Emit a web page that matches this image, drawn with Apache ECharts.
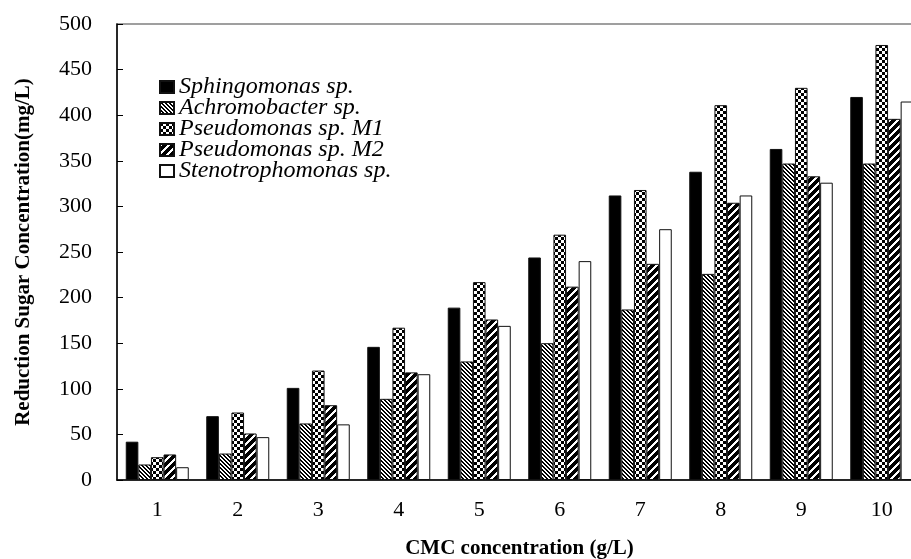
<!DOCTYPE html>
<html>
<head>
<meta charset="utf-8">
<script src="https://cdn.jsdelivr.net/npm/echarts@6/dist/echarts.min.js"></script>
<style>html,body{margin:0;padding:0;background:#fff;}#c{width:911px;height:559px;}</style>
</head>
<body>
<div id="c"></div>
<script>
const categories = ['1','2','3','4','5','6','7','8','9','10'];
const seriesNames = ['Sphingomonas sp.','Achromobacter sp.','Pseudomonas sp. M1','Pseudomonas sp. M2','Stenotrophomonas sp.'];
const sphingomonas = [42, 70, 101, 146, 189, 244, 312, 338, 363, 420];
const achromobacter = [17, 29, 62, 89, 130, 150, 187, 226, 347, 347];
const pseudomonasM1 = [25, 74, 120, 167, 217, 269, 318, 411, 430, 477];
const pseudomonasM2 = [28, 51, 82, 118, 176, 212, 237, 304, 333, 396];
const stenotrophomonas = [14, 47, 61, 116, 169, 240, 275, 312, 326, 415];
const yTicks = {min: 0, max: 500, interval: 50};

function tile(size, fn) {
  const c = document.createElement('canvas');
  c.width = size; c.height = size;
  const ctx = c.getContext('2d');
  const img = ctx.createImageData(size, size);
  for (let y = 0; y < size; y++) for (let x = 0; x < size; x++) {
    const v = fn(x, y) ? 0 : 255;
    const i = (y * size + x) * 4;
    img.data[i] = v; img.data[i+1] = v; img.data[i+2] = v; img.data[i+3] = 255;
  }
  ctx.putImageData(img, 0, 0);
  return {image: c, repeat: 'repeat'};
}
const fills = [
  '#000000',
  tile(4, (x, y) => (((x - y) % 4) + 4) % 4 < 2),
  tile(6, (x, y) => ((Math.floor(x / 3) + Math.floor(y / 3)) % 2) === 0),
  tile(8, (x, y) => ((x + y) % 8) > 2),
  '#ffffff'
];
const dataSets = [sphingomonas, achromobacter, pseudomonasM1, pseudomonasM2, stenotrophomonas];

const chart = echarts.init(document.getElementById('c'), null, {renderer: 'canvas'});
chart.setOption({
  animation: false,
  backgroundColor: '#fff',
  grid: {left: 117, top: 24, width: 805, height: 456, outerBoundsMode: 'none', containLabel: false,
         show: true, borderColor: '#808080', borderWidth: 1.5, backgroundColor: 'transparent'},
  legend: {
    orient: 'vertical', left: 154, top: 70, itemWidth: 14, itemHeight: 12, itemGap: -3,
    icon: 'rect',
    textStyle: {fontFamily: 'Liberation Serif', fontStyle: 'italic', fontSize: 24, color: '#000', lineHeight: 22},
    data: seriesNames
  },
  xAxis: {
    type: 'category', data: categories,
    axisLine: {lineStyle: {color: '#000', width: 1.5}},
    axisTick: {inside: true, length: 6, lineStyle: {color: '#000'}},
    axisLabel: {fontFamily: 'Liberation Serif', fontSize: 22, color: '#000', margin: 19},
    name: 'CMC concentration (g/L)', nameLocation: 'middle', nameGap: 58,
    nameTextStyle: {fontFamily: 'Liberation Serif', fontWeight: 'bold', fontSize: 21, color: '#000'}
  },
  yAxis: {
    type: 'value', min: yTicks.min, max: yTicks.max, interval: yTicks.interval,
    axisLine: {show: true, lineStyle: {color: '#000', width: 1.5}},
    axisTick: {show: true, inside: true, length: 6, lineStyle: {color: '#000'}},
    splitLine: {show: false},
    axisLabel: {fontFamily: 'Liberation Serif', fontSize: 22, color: '#000', margin: 25},
    name: 'Reduction Sugar Concentration(mg/L)', nameLocation: 'middle', nameGap: 83, nameRotate: 90,
    nameTextStyle: {fontFamily: 'Liberation Serif', fontWeight: 'bold', fontSize: 21, color: '#000'}
  },
  series: dataSets.map((d, i) => ({
    name: seriesNames[i], type: 'bar', data: d, barWidth: 12.6, barGap: '0%',
    itemStyle: {color: fills[i], borderColor: '#111', borderWidth: 1}
  }))
});
</script>
</body>
</html>
